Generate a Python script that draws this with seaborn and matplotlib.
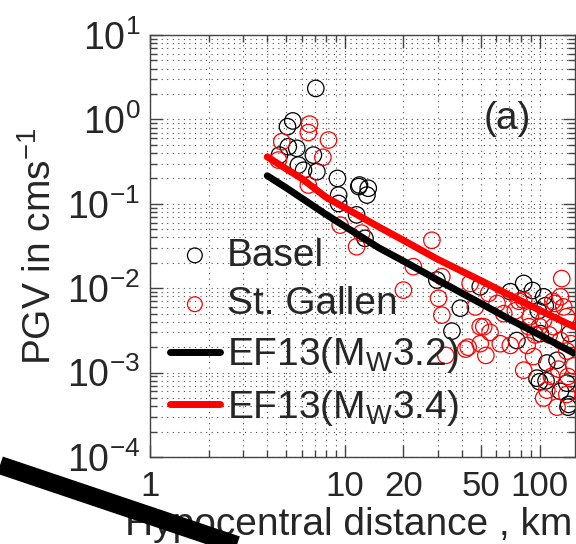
import numpy as np
import seaborn as sns
import matplotlib.pyplot as plt
from matplotlib.lines import Line2D
from matplotlib.ticker import LogLocator, NullFormatter

# observed PGV (cm/s) vs hypocentral distance (km)
basel_dist = [7.1, 5.41, 5.08, 5.13, 5.67, 4.62, 6.9, 5.78, 6.14, 7.19, 9.17, 11.9, 13.2,
              11.8, 13.0, 9.3, 9.3, 11.5, 12.7, 29.7, 39.2, 49.6, 70.8, 82.9, 105, 98.5,
              35.5, 76.5, 101, 97, 109, 123, 138, 140, 128, 143, 108, 92, 107, 100, 141]
basel_pgv = [2.33, 0.96, 0.82, 0.475, 0.455, 0.378, 0.378, 0.288, 0.25, 0.24, 0.2, 0.167, 0.153,
             0.16, 0.127, 0.127, 0.101, 0.074, 0.039, 0.0125, 0.0058, 0.0104, 0.0091, 0.0114, 0.0079, 0.0054,
             0.0031, 0.0024, 0.0029, 0.00086, 0.0013, 0.0014, 0.00075, 0.00039, 0.0006, 0.0029, 0.0008, 0.0094, 0.0062, 0.00078, 0.00042]

gallen_dist = [6.59, 6.5, 8.25, 4.75, 7.72, 4.56, 6.5, 9.47, 12.2, 11.5, 28, 22.5, 20,
               31.5, 30.3, 31.5, 44, 46.8, 54.8, 60.5, 65.5, 75.1, 82.9, 89.7, 105, 130,
               128, 133, 120, 138, 49.6, 43, 49.6, 62.9, 55.7, 70.8, 86.4, 93.2, 82.9, 109,
               105, 123, 138, 118, 128, 138, 51.7, 33, 41.8, 53, 78.5, 117, 100, 112, 145,
               150, 115, 125, 95, 88, 140]
gallen_pgv = [0.88, 0.70, 0.57, 0.545, 0.356, 0.33, 0.167, 0.056, 0.045, 0.031, 0.037, 0.018, 0.0095,
              0.0137, 0.0076, 0.0048, 0.0114, 0.006, 0.0087, 0.0066, 0.005, 0.0054, 0.0072, 0.0046, 0.0042, 0.013,
              0.0079, 0.006, 0.0066, 0.0046, 0.0035, 0.002, 0.0022, 0.0022, 0.003, 0.0021, 0.0021, 0.00155, 0.00107, 0.00062,
              0.0005, 0.00039, 0.00055, 0.0035, 0.0024, 0.0018, 0.0035, 0.0016, 0.0019, 0.0016, 0.007, 0.007, 0.0035, 0.0028, 0.0022,
              0.0012, 0.0009, 0.0011, 0.0028, 0.0035, 0.0009]

# EF13 model curves
ef_dist = [4, 5, 6, 8, 10, 15, 20, 30, 50, 70, 100, 150]
ef32_pgv = [0.215, 0.155, 0.117, 0.075, 0.054, 0.030, 0.021, 0.0125, 0.0066, 0.0043, 0.0028, 0.0017]
ef34_pgv = [0.36, 0.26, 0.20, 0.12, 0.09, 0.053, 0.037, 0.022, 0.0123, 0.0083, 0.0055, 0.0035]

xtick_vals = [1, 10, 20, 50, 100]
xtick_labels = ['1', '10', '20', '50', '100']

sns.set_style('ticks')
plt.rcParams['font.family'] = ['Liberation Sans', 'DejaVu Sans']
plt.rcParams['mathtext.fontset'] = 'custom'
plt.rcParams['mathtext.rm'] = 'Liberation Sans'
plt.rcParams['mathtext.it'] = 'Liberation Sans:italic'
plt.rcParams['mathtext.bf'] = 'Liberation Sans:bold'

fig = plt.figure(figsize=(5.76, 5.44), dpi=100)
ax = fig.add_axes([0.2604, 0.1599, 0.7378, 0.7757])
ax.set(xscale='log', yscale='log')

sns.scatterplot(x=basel_dist, y=basel_pgv, ax=ax, marker='o', s=140, facecolors='none',
                edgecolor='k', linewidth=0.9, label='Basel', zorder=3)
sns.scatterplot(x=gallen_dist, y=gallen_pgv, ax=ax, marker='o', s=140, facecolors='none',
                edgecolor='#ff0000', linewidth=0.9, label='St. Gallen', zorder=3)
sns.lineplot(x=ef_dist, y=ef32_pgv, ax=ax, color='k', linewidth=5,
             label=r'EF13(M$_\mathrm{W}$3.2)', zorder=4)
sns.lineplot(x=ef_dist, y=ef34_pgv, ax=ax, color='#ff0000', linewidth=5,
             label=r'EF13(M$_\mathrm{W}$3.4)', zorder=4)

ax.set_xlim(1, 152)
ax.set_ylim(1e-4, 1e1)
ax.set_xticks(xtick_vals)
ax.set_xticklabels(xtick_labels)
ax.xaxis.set_minor_locator(LogLocator(base=10, subs=np.arange(2, 10)))
ax.xaxis.set_minor_formatter(NullFormatter())
ax.yaxis.set_major_locator(LogLocator(base=10, numticks=10))
ax.yaxis.set_minor_locator(LogLocator(base=10, subs=np.arange(2, 10), numticks=10))
ax.yaxis.set_minor_formatter(NullFormatter())

ax.tick_params(which='both', direction='in', top=True, right=True, width=1, color='#444444')
ax.tick_params(which='major', length=9)
ax.tick_params(which='minor', length=5)
ax.tick_params(axis='x', pad=9, labelsize=25)
ax.tick_params(axis='y', pad=7, labelsize=27)
for sp in ax.spines.values():
    sp.set_linewidth(1)
    sp.set_color('#444444')

ax.set_axisbelow(True)
ax.grid(True, which='both', color='k', linestyle=(0, (1, 4)), linewidth=0.8, alpha=0.7)

handles, labels = ax.get_legend_handles_labels()
ax.legend(handles, labels, loc='upper left', bbox_to_anchor=(0.047, 0.52), frameon=False,
          fontsize=28, handlelength=1.28, handletextpad=0.18, labelspacing=0.33,
          borderpad=0, borderaxespad=0, markerscale=0.9)

ax.text(0.84, 0.80, '(a)', transform=ax.transAxes, fontsize=28, ha='center', va='center')
ax.set_xlabel('Hypocentral distance , km', fontsize=28, labelpad=3, x=0.468)
ax.set_ylabel('PGV in cms$^{-1}$', fontsize=28, labelpad=6)

# stray thick stroke across the lower-left corner
fig.add_artist(Line2D([0, 0.451], [0.145, -0.016], transform=fig.transFigure,
                      color='k', linewidth=13, solid_capstyle='butt', zorder=10))

fig.savefig('out.png', dpi=100)
